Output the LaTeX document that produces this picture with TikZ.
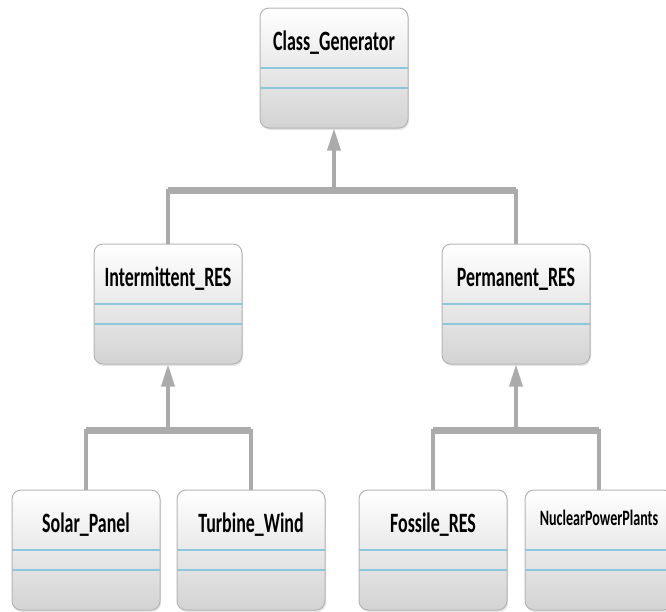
\documentclass[tikz,border=0pt]{standalone}
\usepackage{fontspec}
\newfontfamily\umlfont[FakeStretch=0.64]{Carlito}
\usetikzlibrary{arrows.meta, calc, shadows}
\definecolor{boxedge}{HTML}{B4B4B4}
\definecolor{boxlow}{HTML}{D3D3D3}
\definecolor{sepline}{HTML}{8CC8DC}
\definecolor{linkgray}{HTML}{ABABAB}

\begin{document}
\begin{tikzpicture}[
  x=1pt, y=-1pt, font=\umlfont\bfseries\fontsize{28}{30}\selectfont,
  umlclass/.style={rectangle, rounded corners=9pt, draw=boxedge, line width=1pt,
                   top color=white, bottom color=boxlow, inner sep=0pt,
                   minimum width=148pt, minimum height=120pt,
                   text height=42pt, text depth=78pt, align=center,
                   drop shadow={opacity=0.2, shadow xshift=1pt, shadow yshift=-2pt},
                   path picture={
                     \draw[sepline, line width=1.2pt]
                       ([yshift=-60pt]path picture bounding box.north west) -- ++(200pt,0)
                       ([yshift=-80pt]path picture bounding box.north west) -- ++(200pt,0);}},
  link/.style   ={draw=linkgray, line width=3.5pt},
  bar/.style    ={draw=linkgray, line width=7pt},
  inherit/.style={-{Triangle[length=22pt, width=13pt]}, draw=linkgray, line width=3.5pt},
]
  \useasboundingbox (0,0) rectangle (666,611);
  \node[umlclass] (gen)     at (334,68)  {Class\_Generator};
  \node[umlclass] (inter)   at (168,304) {Intermittent\_RES};
  \node[umlclass] (perm)    at (516,304) {Permanent\_RES};
  \node[umlclass] (solar)   at (86,550)  {Solar\_Panel};
  \node[umlclass] (turbine) at (251,550) {Turbine\_Wind};
  \node[umlclass] (fossile) at (433,550) {Fossile\_RES};
  \node[umlclass, text height=35pt, text depth=85pt, font=\umlfont\bfseries\fontsize{22}{24}\selectfont]
                  (nuclear) at (599,550) {NuclearPowerPlants};

  % generalisation trees: vertical drops, thick bar, arrow up to the parent
  \coordinate (b0) at ($(gen.south)+(0,62)$);
  \coordinate (b1) at ($(inter.south)+(0,66)$);
  \coordinate (b2) at ($(perm.south)+(0,66)$);
  \draw[link] (inter.north) |- (b0) -| (perm.north);
  \draw[bar]  (inter.north |- b0) -- (perm.north |- b0);
  \draw[inherit] (b0) -- (gen.south);
  \draw[link] (solar.north) |- (b1) -| (turbine.north);
  \draw[bar]  (solar.north |- b1) -- (turbine.north |- b1);
  \draw[inherit] (b1) -- (inter.south);
  \draw[link] (fossile.north) |- (b2) -| (nuclear.north);
  \draw[bar]  (fossile.north |- b2) -- (nuclear.north |- b2);
  \draw[inherit] (b2) -- (perm.south);
\end{tikzpicture}
\end{document}
